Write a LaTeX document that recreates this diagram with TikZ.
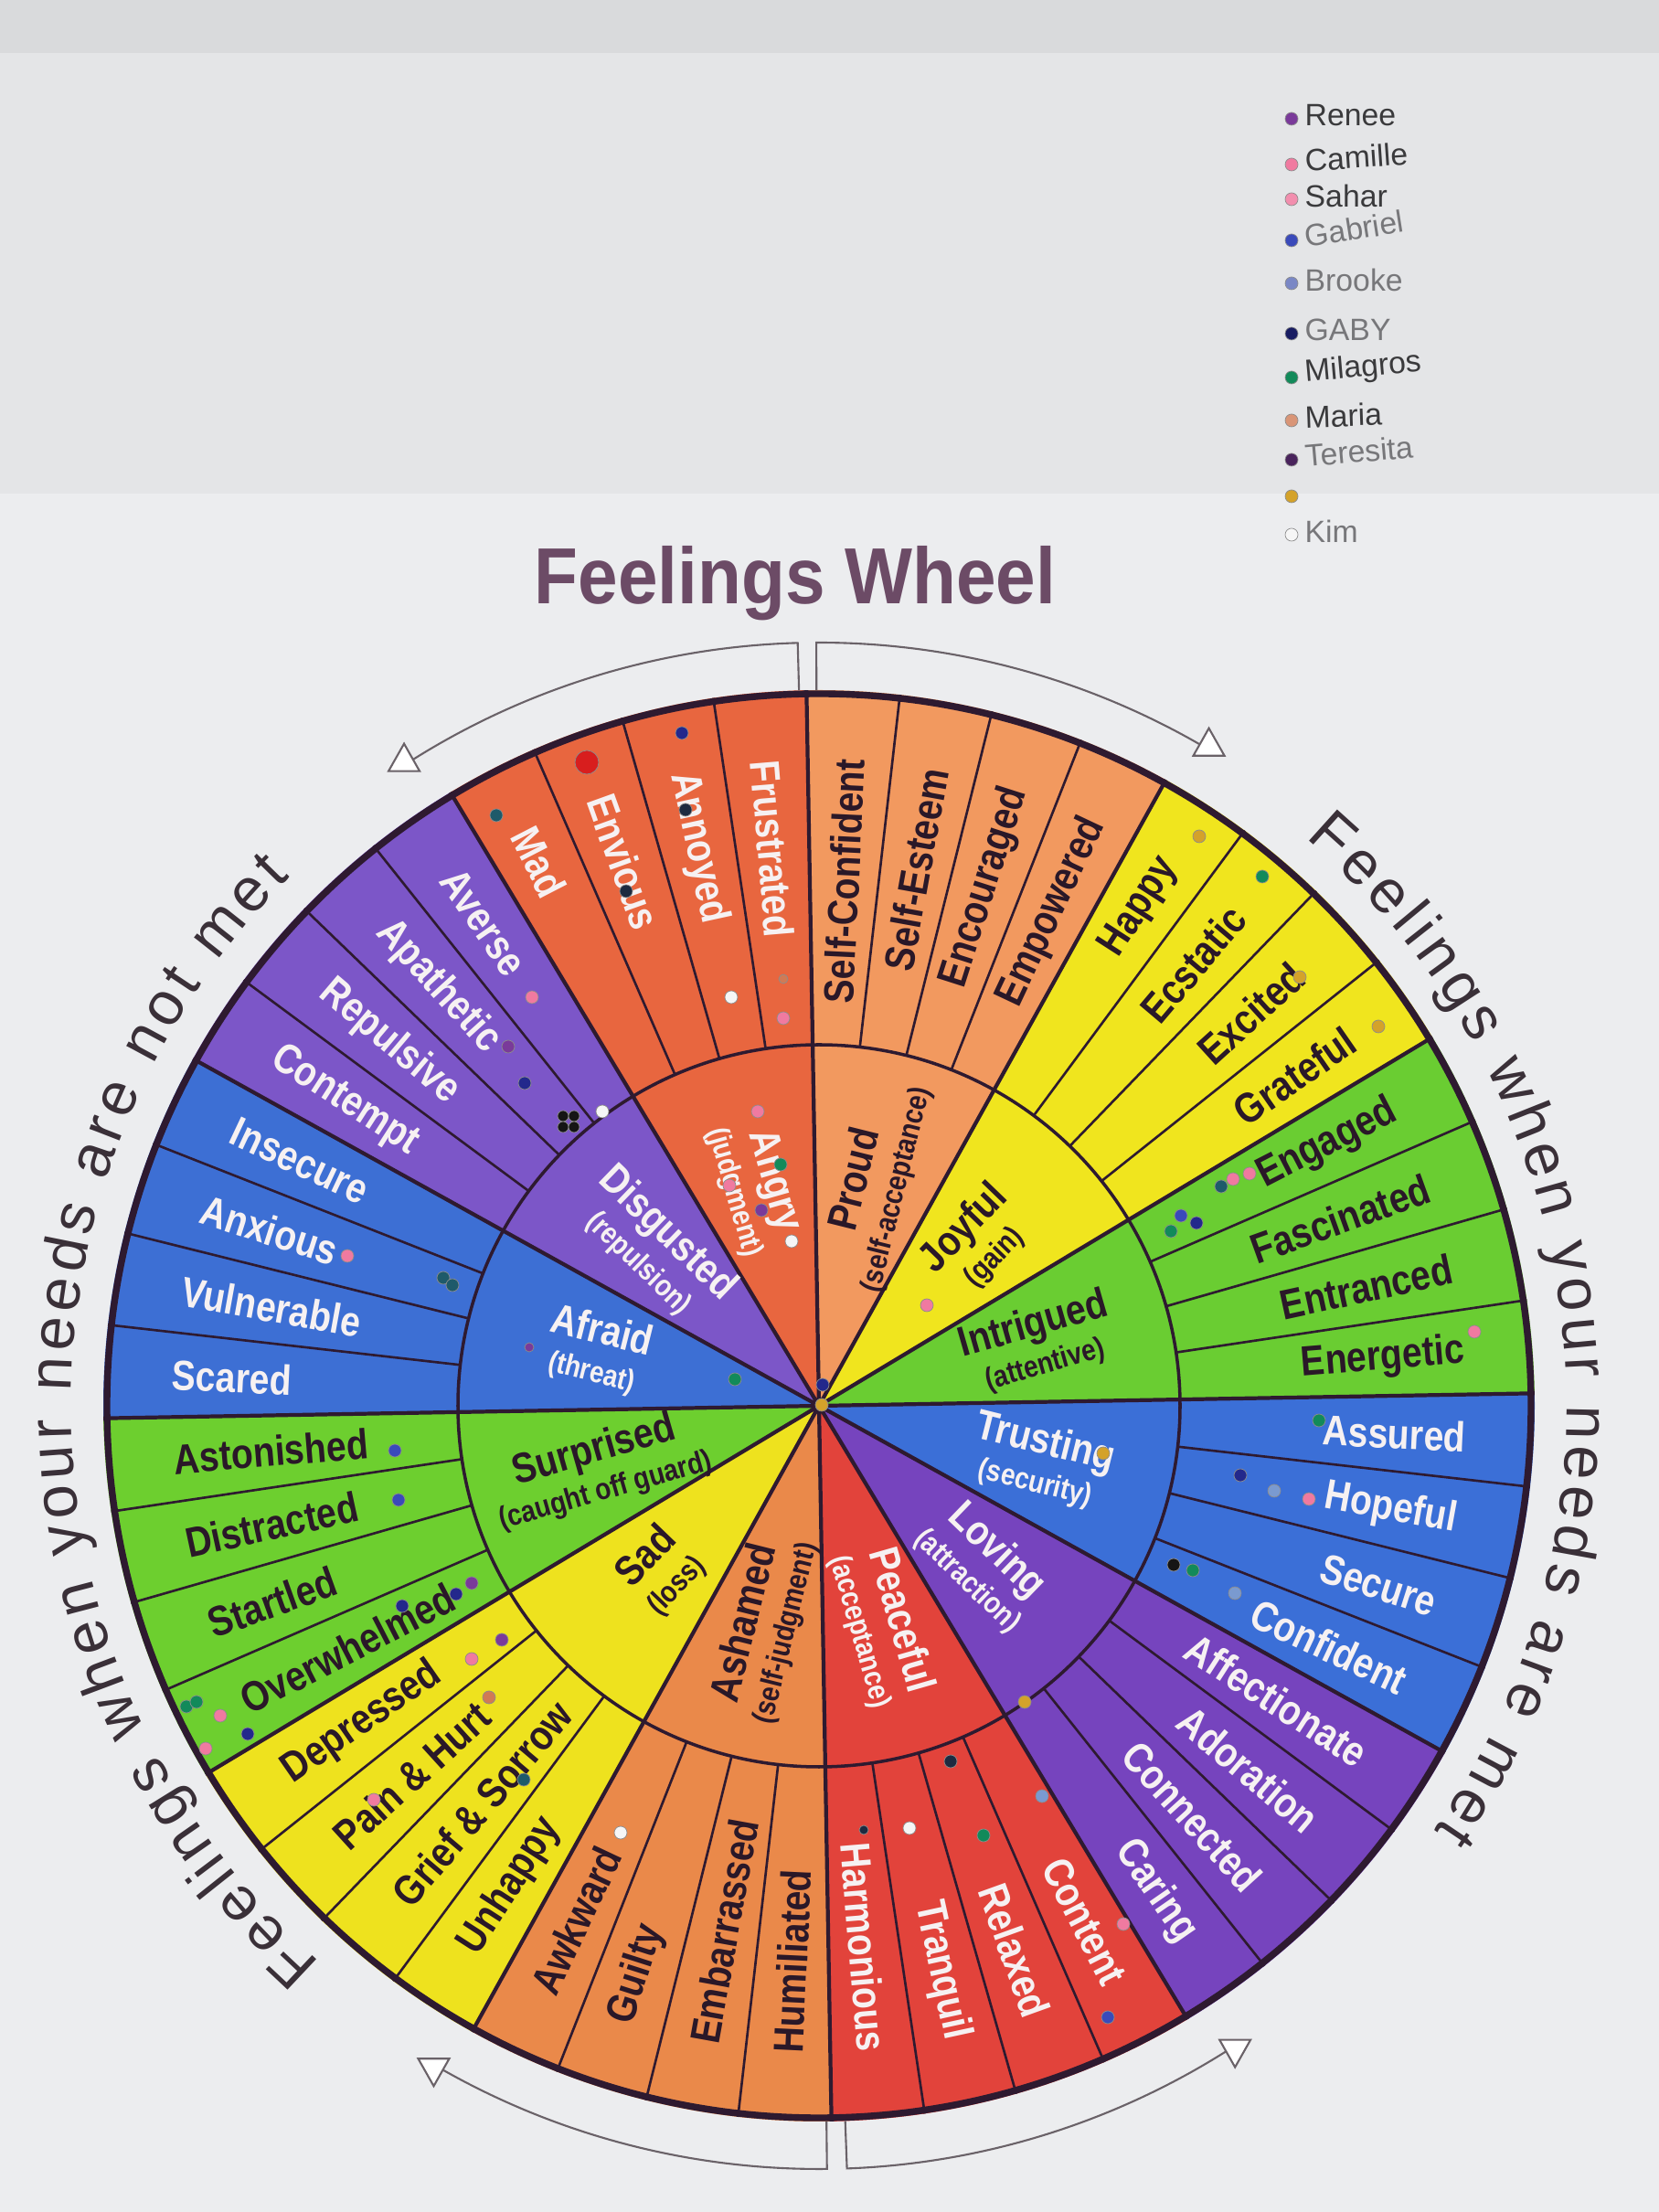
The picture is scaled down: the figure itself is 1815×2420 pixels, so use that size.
\documentclass[tikz,border=0pt]{standalone}
\usepackage{fontspec}
\setmainfont{Liberation Sans}
\newfontfamily\wheelfont[FakeStretch=0.85]{Liberation Sans}
\newfontfamily\titlefont[FakeStretch=0.9]{Liberation Sans}
\usetikzlibrary{decorations.text}

\definecolor{bgA}{HTML}{ECEDEF}
\definecolor{bgB}{HTML}{E4E5E7}
\definecolor{bgC}{HTML}{D9DADC}
\definecolor{cInt}{HTML}{6ACD32}
\definecolor{cJoy}{HTML}{F0E51E}
\definecolor{cPro}{HTML}{F2995F}
\definecolor{cAng}{HTML}{E8663F}
\definecolor{cDis}{HTML}{7C56C8}
\definecolor{cAfr}{HTML}{3D6FD4}
\definecolor{cSur}{HTML}{6DCF2F}
\definecolor{cSad}{HTML}{EEE21E}
\definecolor{cAsh}{HTML}{EA894A}
\definecolor{cPea}{HTML}{E2433B}
\definecolor{cLov}{HTML}{7644BE}
\definecolor{cTru}{HTML}{3B6FD7}
\definecolor{ink}{HTML}{2E1A30}
\definecolor{wtxt}{HTML}{F6F1F2}
\definecolor{btxt}{HTML}{2A1828}
\definecolor{titlecol}{HTML}{6C4B66}
\definecolor{curvecol}{HTML}{3A3038}
\definecolor{arccol}{HTML}{6A6268}
\definecolor{pnavy}{HTML}{23288C}
\definecolor{pdark}{HTML}{1E2A40}
\definecolor{pteal}{HTML}{1E5A6A}
\definecolor{pgreen}{HTML}{128A5A}
\definecolor{ppink}{HTML}{F07AA0}
\definecolor{ppurple}{HTML}{7A3A9A}
\definecolor{pwhite}{HTML}{F6F6F6}
\definecolor{pgold}{HTML}{D4A22A}
\definecolor{pcopper}{HTML}{D07A55}
\definecolor{pblue}{HTML}{3A4ABA}
\definecolor{plblue}{HTML}{7A9AD0}
\definecolor{pblack}{HTML}{151515}
\definecolor{pred}{HTML}{D81E1E}
\definecolor{legtxt}{HTML}{3A3A3C}
\definecolor{leggray}{HTML}{77777A}

\def\R{783}
\def\Ri{395}
\def\rw{709}
\def\rin{250}
\def\off{1}

\tikzset{
  wordsty/.style={font={\wheelfont\bfseries\fontsize{13.1}{14}\selectfont}, inner sep=0pt},
  innersty/.style={font={\wheelfont\bfseries\fontsize{13.1}{12}\selectfont}, inner sep=0pt, align=center},
  mainline/.style={draw=ink, line width=1.2pt},
  subline/.style={draw=ink, line width=0.75pt},
  rimline/.style={draw=ink, line width=2.1pt},
  arcline/.style={draw=arccol, line width=0.6pt},
  arrowtri/.style={draw=arccol, fill=white, line width=0.6pt, line join=miter},
  titlesty/.style={font={\titlefont\bfseries\fontsize{24.75}{26}\selectfont}, text=titlecol, inner sep=0pt},
  legsty/.style={font={\fontsize{9.6}{10}\selectfont}, inner sep=0pt},
  pinsty/.style={draw=black!45, line width=0.2pt}
}

\newcommand\placeword[4]{%
  \pgfmathsetmacro\wang{#1+\off}%
  \pgfmathtruncatemacro\wside{cos(#1)>0}%
  \ifnum\wside=1\relax
    \node[wordsty,text=#3,anchor=east,rotate=\wang] (#4) at (\wang:\rw) {#2};%
  \else
    \pgfmathsetmacro\wrot{\wang+180}%
    \node[wordsty,text=#3,anchor=west,rotate=\wrot] (#4) at (\wang:\rw) {#2};%
  \fi}

\newcommand\placeinner[5]{%
  \pgfmathsetmacro\iang{#1+\off}%
  \pgfmathtruncatemacro\iside{cos(#1)>0}%
  \ifnum\iside=1\relax
    \pgfmathsetmacro\irot{\iang}%
  \else
    \pgfmathsetmacro\irot{\iang+180}%
  \fi
  \node[innersty,text=#4,rotate=\irot] (#5) at (\iang:\rin) {#2\\{\fontsize{9.4}{10}\selectfont #3}};}

\newcommand\pin[4][7]{\filldraw[pinsty,fill=#4] (#2,2420-#3) circle[radius=#1];}

\def\wheeldata{
 0/cInt/btxt/Intrigued/(attentive)/Energetic/Entranced/Fascinated/Engaged,
 30/cJoy/btxt/Joyful/(gain)/Grateful/Excited/Ecstatic/Happy,
 60/cPro/btxt/Proud/(self-acceptance)/Empowered/Encouraged/Self-Esteem/Self-Confident,
 90/cAng/wtxt/Angry/(judgment)/Frustrated/Annoyed/Envious/Mad,
 120/cDis/wtxt/Disgusted/(repulsion)/Averse/Apathetic/Repulsive/Contempt,
 150/cAfr/wtxt/Afraid/(threat)/Insecure/Anxious/Vulnerable/Scared,
 180/cSur/btxt/Surprised/(caught off guard)/Astonished/Distracted/Startled/Overwhelmed,
 210/cSad/btxt/Sad/(loss)/Depressed/Pain \& Hurt/Grief \& Sorrow/Unhappy,
 240/cAsh/btxt/Ashamed/(self-judgment)/Awkward/Guilty/Embarrassed/Humiliated,
 270/cPea/wtxt/Peaceful/(acceptance)/Harmonious/Tranquil/Relaxed/Content,
 300/cLov/wtxt/Loving/(attraction)/Caring/Connected/Adoration/Affectionate,
 330/cTru/wtxt/Trusting/(security)/Confident/Secure/Hopeful/Assured}

\begin{document}
\begin{tikzpicture}[x=0.01cm,y=0.01cm]
\useasboundingbox (0,0) rectangle (1815,2420);
\fill[bgA] (0,0) rectangle (1815,2420);
\fill[bgB] (0,1880) rectangle (1815,2420);
\fill[bgC] (0,2362) rectangle (1815,2420);

% title
\node[titlesty, anchor=base] (title) at (870,1759) {Feelings Wheel};

% legend
\foreach \n/\yy/\cc/\tcol/\rr/\nm in {
  1/130/ppurple/legtxt/0/Renee,
  2/180/ppink/legtxt/4/Camille,
  3/218/ppink!85!white/legtxt/0/Sahar,
  4/263/pblue/leggray/9/Gabriel,
  5/310/plblue!80!ppurple/leggray/0/Brooke,
  6/365/pnavy!70!black/leggray/0/GABY,
  7/413/pgreen/legtxt/5/Milagros,
  8/460/pcopper!80!white/legtxt/2/Maria,
  9/503/ppurple!60!black/leggray/5/Teresita,
  10/543/pgold/leggray/0/{},
  11/585/pwhite/leggray/0/Kim}
{
  \filldraw[pinsty] [fill=\cc] (1413,2420-\yy) circle[radius=7];
  \node[legsty, text=\tcol, anchor=west, rotate=\rr] (leg\n) at (1427,2420-\yy+4) {\nm};
}

\begin{scope}[shift={(896,882)}]
  % sectors
  \foreach \ang/\col/\tcol/\mn/\sb/\wA/\wB/\wC/\wD in \wheeldata {
    \fill[\col] (0,0) -- (\ang+\off:\R) arc[start angle=\ang+\off, delta angle=30, radius=\R] -- cycle;
  }
  % lines
  \foreach \ang in {0,30,...,330} {
    \foreach \k in {1,2,3} {
      \draw[subline] (\ang+7.5*\k+\off:\Ri) -- (\ang+7.5*\k+\off:\R);
    }
  }
  \draw[draw=ink, line width=1pt] (0,0) circle[radius=\Ri];
  \foreach \ang in {0,30,...,330} {
    \draw[mainline] (0,0) -- (\ang+\off:\R);
  }
  \draw[rimline] (0,0) circle[radius=\R-4];
  \fill[ink] (0,0) circle[radius=9];
  % words
  \foreach \ang/\col/\tcol/\mn/\sb/\wA/\wB/\wC/\wD [count=\ii] in \wheeldata {
    \placeword{\ang+3.75}{\wA}{\tcol}{w\ii-a}
    \placeword{\ang+11.25}{\wB}{\tcol}{w\ii-b}
    \placeword{\ang+18.75}{\wC}{\tcol}{w\ii-c}
    \placeword{\ang+26.25}{\wD}{\tcol}{w\ii-d}
    \placeinner{\ang+15}{\mn}{\sb}{\tcol}{in\ii}
  }

  % curved captions
  \path[decorate, decoration={text along path, text align={fit to path},
    text={|\fontsize{19}{19}\selectfont\color{curvecol}|Feelings when your needs are not met}}]
    (228.2:818) arc[start angle=228.2, end angle=135, radius=818];
  \path[decorate, decoration={text along path, text align={fit to path},
    text={|\fontsize{19}{19}\selectfont\color{curvecol}|Feelings when your needs are met}}]
    (49.4:818) arc[start angle=49.4, end angle=-34.6, radius=818];

  % bracket arrows
  \coordinate (tla) at (91.6:\R);  \coordinate (tlb) at (91.6:835);  \coordinate (tlh) at (122.8:838);
  \coordinate (tra) at (90.2:\R);  \coordinate (trb) at (90.2:835);  \coordinate (trh) at (59.4:838);
  \coordinate (bla) at (-89.4:\R); \coordinate (blb) at (-89.4:835); \coordinate (blh) at (-120.2:838);
  \coordinate (bra) at (-87.9:\R); \coordinate (brb) at (-87.9:835); \coordinate (brh) at (-57.1:838);
  \draw[arcline] (tla) -- (tlb) arc[start angle=91.6, end angle=122.3, radius=835];
  \draw[arcline] (tra) -- (trb) arc[start angle=90.2, end angle=59.9, radius=835];
  \draw[arcline] (bla) -- (blb) arc[start angle=-89.4, end angle=-119.7, radius=835];
  \draw[arcline] (bra) -- (brb) arc[start angle=-87.9, end angle=-57.6, radius=835];
  \draw[arrowtri] (tlh) ++(-17,-10) -- ++(34,0) -- ++(-17,30) -- cycle;
  \draw[arrowtri] (trh) ++(-17,-10) -- ++(34,0) -- ++(-17,30) -- cycle;
  \draw[arrowtri] (blh) ++(-17,10) -- ++(34,0) -- ++(-17,-30) -- cycle;
  \draw[arrowtri] (brh) ++(-17,10) -- ++(34,0) -- ++(-17,-30) -- cycle;
\end{scope}

% pins
\pin[13]{642}{834}{pred}
\pin{746}{802}{pnavy}
\pin{543}{892}{pteal}
\pin{750}{886}{pdark}
\pin{685}{975}{pdark}
\pin[5]{857}{1071}{pcopper}
\pin{857}{1114}{ppink}
\pin{800}{1091}{pwhite}
\pin{582}{1091}{ppink}
\pin{556}{1145}{ppurple}
\pin{574}{1185}{pnavy}
\pin[6]{616}{1221}{pblack}
\pin[6]{628}{1221}{pblack}
\pin[6]{616}{1233}{pblack}
\pin[6]{628}{1233}{pblack}
\pin{659}{1216}{pwhite}
\pin{829}{1216}{ppink}
\pin{854}{1274}{pgreen}
\pin{798}{1297}{ppink}
\pin{833}{1324}{ppurple}
\pin{866}{1358}{pwhite}
\pin{1014}{1428}{ppink}
\pin{804}{1509}{pgreen}
\pin[5]{579}{1474}{ppurple}
\pin{900}{1515}{pnavy}
\pin{899}{1537}{pgold}
\pin{380}{1374}{ppink}
\pin{485}{1398}{pteal}
\pin{495}{1406}{pteal}
\pin{1312}{915}{pgold}
\pin{1381}{959}{pgreen}
\pin{1422}{1069}{pgold}
\pin{1508}{1123}{pgold}
\pin{1349}{1290}{ppink}
\pin{1367}{1284}{ppink}
\pin{1336}{1298}{pteal}
\pin{1292}{1330}{pblue}
\pin{1281}{1347}{pgreen}
\pin{1309}{1338}{pnavy}
\pin{1613}{1457}{ppink}
\pin{1443}{1554}{pgreen}
\pin{1357}{1614}{pnavy}
\pin{1394}{1631}{plblue}
\pin{1432}{1640}{ppink}
\pin{1207}{1590}{pgold}
\pin{1284}{1712}{pblack}
\pin{1305}{1718}{pgreen}
\pin{1351}{1743}{plblue}
\pin{1121}{1862}{pgold}
\pin{1040}{1927}{pdark}
\pin{1140}{1965}{plblue}
\pin{1076}{2008}{pgreen}
\pin{995}{2000}{pwhite}
\pin[5]{945}{2002}{pdark}
\pin{1229}{2105}{ppink}
\pin{1212}{2207}{pblue}
\pin{679}{2005}{pwhite}
\pin{549}{1794}{ppurple}
\pin{516}{1815}{ppink}
\pin{535}{1857}{pcopper}
\pin{409}{1969}{ppink}
\pin{573}{1947}{pteal}
\pin{432}{1587}{pblue}
\pin{436}{1641}{pblue}
\pin{516}{1732}{ppurple}
\pin{499}{1744}{pnavy}
\pin{440}{1757}{pnavy}
\pin{204}{1867}{pgreen}
\pin{215}{1862}{pgreen}
\pin{241}{1877}{ppink}
\pin{271}{1897}{pnavy}
\pin{225}{1913}{ppink}
\end{tikzpicture}
\end{document}
